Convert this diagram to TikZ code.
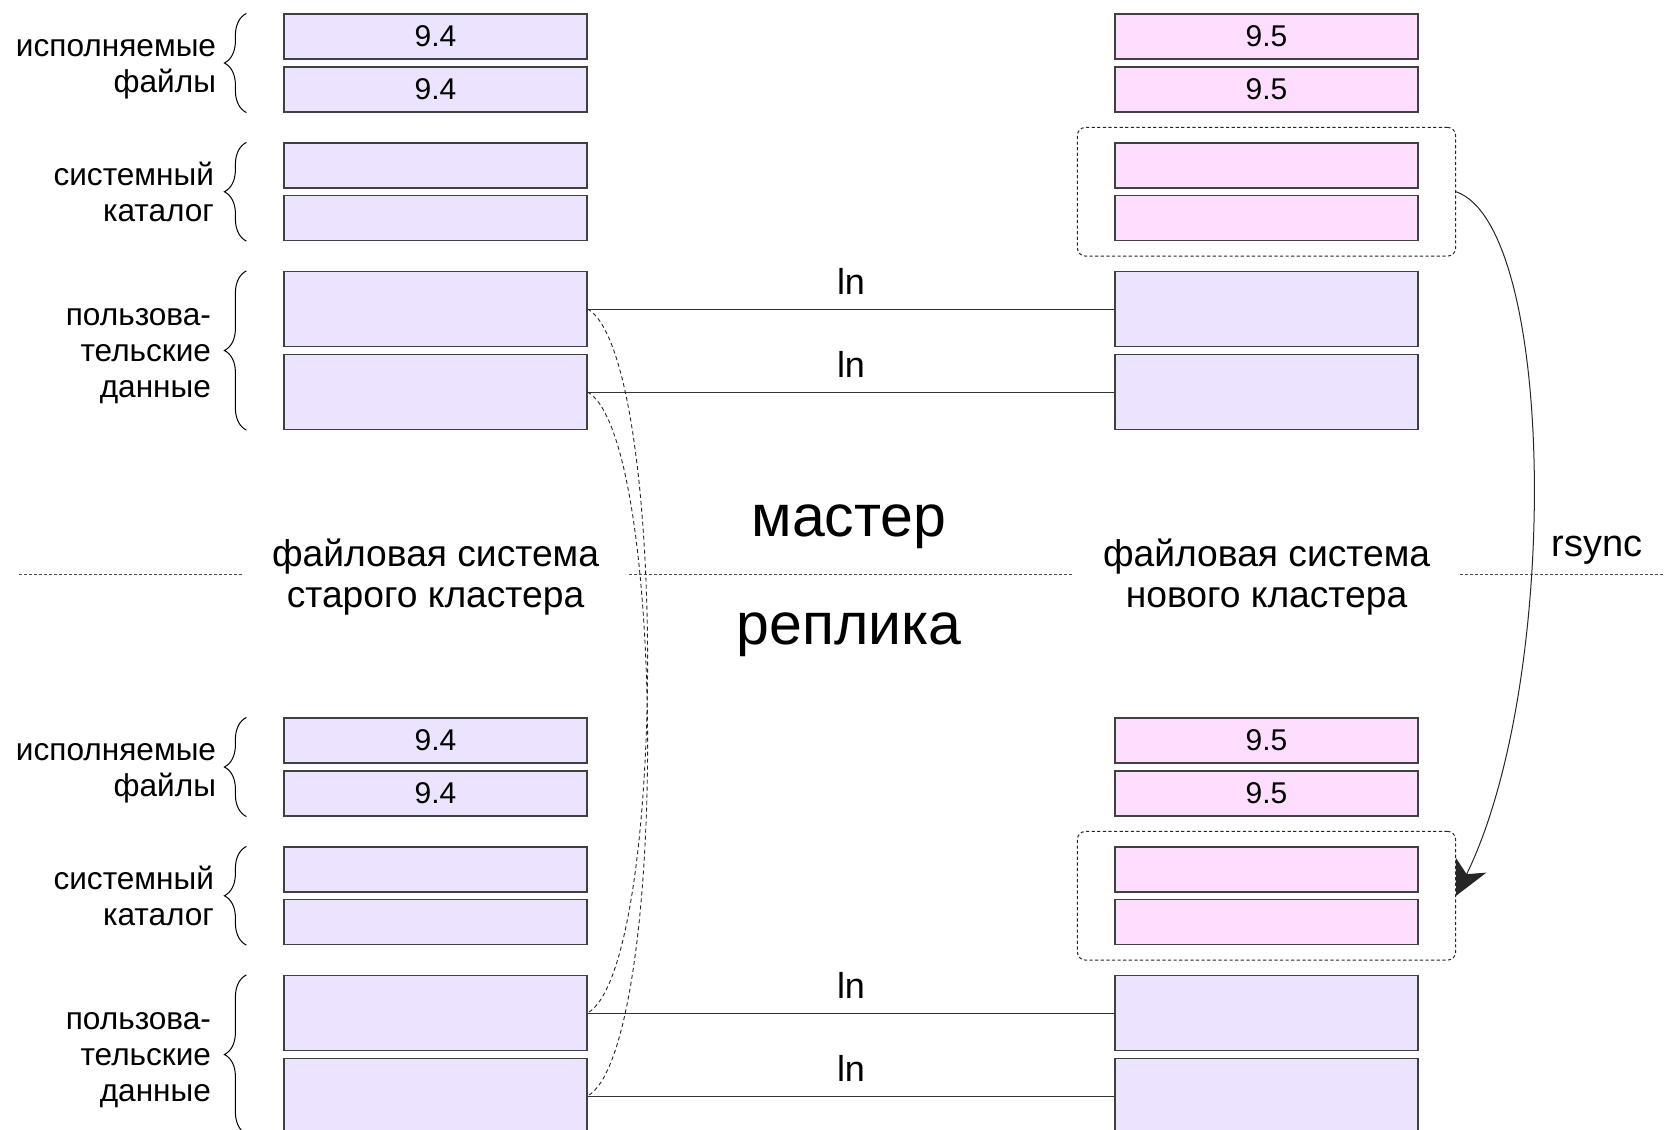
\documentclass[tikz,border=0pt]{standalone}
\usepackage{fontspec}
\setmainfont{Liberation Sans}
\usetikzlibrary{arrows.meta, fit, calc, decorations.pathreplacing}

\definecolor{oldfill}{RGB}{236,228,255}
\definecolor{newfill}{RGB}{255,221,255}

\tikzset{
  box/.style={draw=black!75, line width=0.6pt, minimum width=151.5pt, minimum height=22.5pt,
    inner sep=0pt, font=\fontsize{15}{18}\selectfont},
  oldbox/.style={box, fill=oldfill},
  newbox/.style={box, fill=newfill},
  tall/.style={minimum height=37.5pt},
  lbl/.style={anchor=east, align=right, inner sep=0pt, font=\fontsize{15.8}{18}\selectfont},
  brc/.style={decorate, decoration={brace, amplitude=11pt}, line width=0.5pt},
  grp/.style={draw=black!85, dash pattern=on 1.6pt off 1.2pt, rounded corners=4pt,
    inner xsep=18.5pt, inner ysep=7.5pt, line width=0.5pt},
  lnk/.style={draw=black!80, line width=0.5pt},
  hard/.style={draw=black!85, dash pattern=on 2pt off 1.5pt, line width=0.45pt},
  fslbl/.style={align=center, inner xsep=15pt, font=\fontsize{18.6}{20.5}\selectfont},
  big/.style={font=\fontsize{29.5}{32}\selectfont},
}

\begin{document}
\begin{tikzpicture}[x=0.5pt, y=-0.5pt]
  \useasboundingbox (0,0) rectangle (1664,1129);

  % мастер
  \node[oldbox] (mob1) at (435.5,36.5) {9.4};
  \node[oldbox] (mob2) at (435.5,89.5) {9.4};
  \node[oldbox] (mos1) at (435.5,165.5) {};
  \node[oldbox] (mos2) at (435.5,218) {};
  \node[oldbox,tall] (mod1) at (435.5,309) {};
  \node[oldbox,tall] (mod2) at (435.5,392) {};

  \node[newbox] (mnb1) at (1266.5,36.5) {9.5};
  \node[newbox] (mnb2) at (1266.5,89.5) {9.5};
  \node[newbox] (mns1) at (1266.5,165.5) {};
  \node[newbox] (mns2) at (1266.5,218) {};
  \node[oldbox,tall] (mnd1) at (1266.5,309) {};
  \node[oldbox,tall] (mnd2) at (1266.5,392) {};
  \node[grp, fit=(mns1)(mns2)] (mgrp) {};

  \draw[brc] ([xshift=-18.5pt]mob2.south west) -- ([xshift=-18.5pt]mob1.north west);
  \draw[brc] ([xshift=-18.5pt]mos2.south west) -- ([xshift=-18.5pt]mos1.north west);
  \draw[brc] ([xshift=-18.5pt]mod2.south west) -- ([xshift=-18.5pt]mod1.north west);
  \node[lbl] (mbinlbl) at ($(mob1.south west)!.5!(mob2.north west)+(-67,6)$) {исполняемые\\файлы};
  \node[lbl] (mcatlbl) at ($(mos1.south west)!.5!(mos2.north west)+(-69,0)$) {системный\\каталог};
  \node[lbl] (mdatlbl) at ($(mod1.south west)!.5!(mod2.north west)+(-72,6)$) {пользова-\\тельские\\данные};

  \draw[lnk] (mod1) -- node[above, inner sep=7pt, font=\fontsize{18}{20}\selectfont] (mln1) {ln} (mnd1);
  \draw[lnk] (mod2) -- node[above, inner sep=7pt, font=\fontsize{18}{20}\selectfont] (mln2) {ln} (mnd2);

  % реплика
  \begin{scope}[shift={(0,704)}]
    \node[oldbox] (rob1) at (435.5,36.5) {9.4};
    \node[oldbox] (rob2) at (435.5,89.5) {9.4};
    \node[oldbox] (ros1) at (435.5,165.5) {};
    \node[oldbox] (ros2) at (435.5,218) {};
    \node[oldbox,tall] (rod1) at (435.5,309) {};
    \node[oldbox,tall] (rod2) at (435.5,392) {};

    \node[newbox] (rnb1) at (1266.5,36.5) {9.5};
    \node[newbox] (rnb2) at (1266.5,89.5) {9.5};
    \node[newbox] (rns1) at (1266.5,165.5) {};
    \node[newbox] (rns2) at (1266.5,218) {};
    \node[oldbox,tall] (rnd1) at (1266.5,309) {};
    \node[oldbox,tall] (rnd2) at (1266.5,392) {};
    \node[grp, fit=(rns1)(rns2)] (rgrp) {};

    \draw[brc] ([xshift=-18.5pt]rob2.south west) -- ([xshift=-18.5pt]rob1.north west);
    \draw[brc] ([xshift=-18.5pt]ros2.south west) -- ([xshift=-18.5pt]ros1.north west);
    \draw[brc] ([xshift=-18.5pt]rod2.south west) -- ([xshift=-18.5pt]rod1.north west);
    \node[lbl] (rbinlbl) at ($(rob1.south west)!.5!(rob2.north west)+(-67,6)$) {исполняемые\\файлы};
    \node[lbl] (rcatlbl) at ($(ros1.south west)!.5!(ros2.north west)+(-69,0)$) {системный\\каталог};
    \node[lbl] (rdatlbl) at ($(rod1.south west)!.5!(rod2.north west)+(-72,6)$) {пользова-\\тельские\\данные};

    \draw[lnk] (rod1) -- node[above, inner sep=7pt, font=\fontsize{18}{20}\selectfont] (rln1) {ln} (rnd1);
    \draw[lnk] (rod2) -- node[above, inner sep=7pt, font=\fontsize{18}{20}\selectfont] (rln2) {ln} (rnd2);
  \end{scope}

  % жесткие ссылки
  \draw[hard] (mod1.east) .. controls +(80,46) and +(80,-46) .. (rod1.east);
  \draw[hard] (mod2.east) .. controls +(80,46) and +(80,-46) .. (rod2.east);

  % граница
  \node[fslbl] (oldfs) at (435.5,577) {файловая система\\старого кластера};
  \node[fslbl] (newfs) at (1266.5,577) {файловая система\\нового кластера};
  \coordinate (sepl) at (19,574);
  \coordinate (sepr) at (1664,574);
  \draw[black!70, dash pattern=on 1.5pt off 1pt, line width=0.5pt]
    (sepl) -- (oldfs.west |- sepl) (oldfs.east |- sepl) -- (newfs.west |- sepl) (newfs.east |- sepl) -- (sepr);

  \node[big] (master) at (849,527) {мастер};
  \node[big] (replica) at (849,635) {реплика};

  % rsync
  \draw[black!85, line width=0.5pt, -{Stealth[length=17pt, width=17pt, inset=5pt]}]
    (mgrp.east) .. controls +(100,35) and +(105,-215) .. (rgrp.east);
  \node[font=\fontsize{19}{20.5}\selectfont] (rsync) at (1597,550) {rsync};
\end{tikzpicture}
\end{document}
